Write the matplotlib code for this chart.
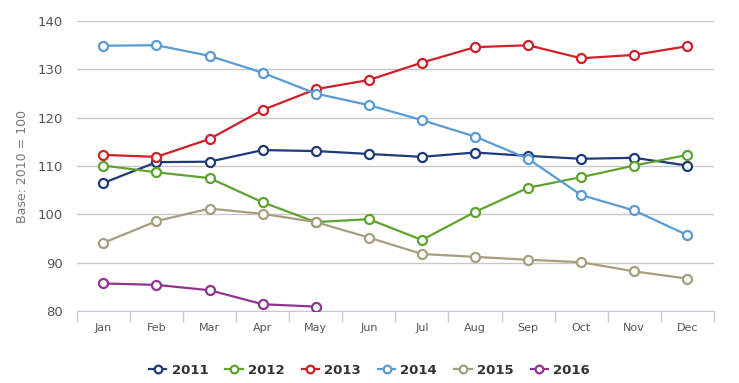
import numpy as np
import matplotlib.pyplot as plt

months = ['Jan', 'Feb', 'Mar', 'Apr', 'May', 'Jun', 'Jul', 'Aug', 'Sep', 'Oct', 'Nov', 'Dec']
years = ['2011', '2012', '2013', '2014', '2015', '2016']
v2011 = [106.5, 110.8, 110.9, 113.3, 113.1, 112.5, 111.9, 112.8, 112.1, 111.5, 111.7, 110.1]
v2012 = [110.1, 108.7, 107.5, 102.5, 98.4, 99.0, 94.7, 100.5, 105.5, 107.7, 110.1, 112.3]
v2013 = [112.3, 111.9, 115.6, 121.6, 125.9, 127.8, 131.4, 134.6, 135.0, 132.3, 133.0, 134.8]
v2014 = [134.9, 135.0, 132.8, 129.3, 125.0, 122.6, 119.5, 116.1, 111.5, 104.0, 100.8, 95.7]
v2015 = [94.1, 98.6, 101.2, 100.1, 98.4, 95.2, 91.8, 91.2, 90.6, 90.1, 88.2, 86.7]
v2016 = [85.7, 85.4, 84.3, 81.4, 80.9]

series = [v2011, v2012, v2013, v2014, v2015, v2016]
colors = ['#1f3a78', '#5ea32c', '#d0202a', '#5a9bd5', '#a39f7f', '#8e3590']

fig = plt.figure(figsize=(7.39, 3.83), dpi=100)
ax = fig.add_axes([0.104, 0.188, 0.862, 0.757])

for name, vals, c in zip(years, series, colors):
    x = np.arange(len(vals))
    ax.plot(x, vals, color=c, lw=1.6, marker='o', ms=6.5, mfc='white',
            mec=c, mew=1.6, label=name, zorder=3)

ax.set_xlim(-0.5, 11.5)
ax.set_ylim(80, 140)
ax.set_yticks(np.arange(80, 141, 10))
ax.set_xticks(np.arange(12))
ax.set_xticklabels(months)
ax.set_xticks(np.arange(-0.5, 12, 1), minor=True)
ax.tick_params(axis='x', which='major', length=0, pad=9, labelsize=8, labelcolor='#555555')
ax.tick_params(axis='x', which='minor', length=8, color='#c0cad8', width=1)
ax.tick_params(axis='y', length=0, pad=10, labelsize=9.5, labelcolor='#555555')
ax.grid(axis='y', color='#c8c8c8', lw=1)
for s in ['top', 'right', 'left']:
    ax.spines[s].set_visible(False)
ax.spines['bottom'].set_color('#c0cad8')
ax.set_ylabel('Base: 2010 = 100', color='#777777', fontsize=9, labelpad=6)

leg = fig.legend(loc='lower center', bbox_to_anchor=(0.5, -0.015), ncol=6, frameon=False,
                 fontsize=9.5, handlelength=1.3, columnspacing=1.3, handletextpad=0.4,
                 markerscale=0.85)
for t in leg.get_texts():
    t.set_fontweight('bold')
    t.set_color('#333333')

fig.savefig('out.png', dpi=100)
